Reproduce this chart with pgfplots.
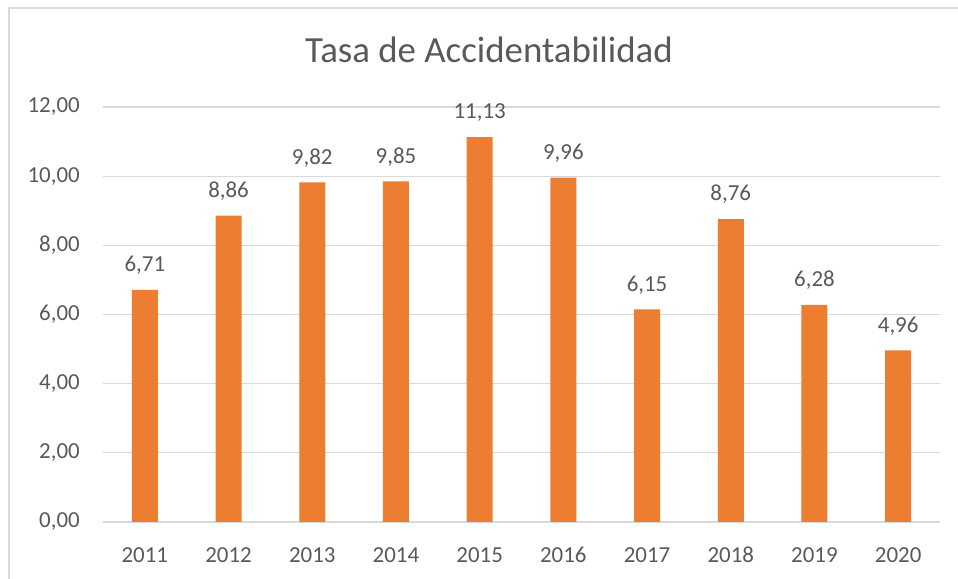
\documentclass[border=0pt]{standalone}
\usepackage{fontspec}
\setmainfont{Carlito}
\usepackage{pgfplots}
\pgfplotsset{compat=1.18}
\definecolor{barorange}{HTML}{ED7D31}
\definecolor{txtgray}{HTML}{595959}
\definecolor{gridgray}{HTML}{D9D9D9}
\begin{document}
\begin{tikzpicture}[x=1bp,y=1bp]
\path[use as bounding box] (-103,-57) rectangle (855,522);
\draw[gridgray, line width=1.5bp] (-94,-60) -- (-94,514) -- (860,514);
\begin{axis}[
  at={(0,0)}, anchor=south west,
  scale only axis, width=837bp, height=415bp,
  xmin=-0.5, xmax=9.5, ymin=0, ymax=12,
  xtick={0,...,9},
  xticklabels={2011,2012,2013,2014,2015,2016,2017,2018,2019,2020},
  ytick={0,2,...,12},
  axis line style={draw=none},
  major tick length=0pt,
  ymajorgrids, grid style={gridgray, line width=1.3bp},
  /pgf/number format/assume math mode=true,
  yticklabel={\pgfmathprintnumber[fixed,fixed zerofill,precision=2,use comma]{\tick}},
  yticklabel style={font=\fontsize{23}{27}\selectfont, text=txtgray, inner sep=0pt, anchor=east, xshift=-23bp},
  xticklabel style={font=\fontsize{23}{27}\selectfont, text=txtgray, inner sep=0pt, anchor=north, yshift=-25bp},
  ybar, bar width=26bp,
  nodes near coords={\pgfmathprintnumber[fixed,fixed zerofill,precision=2,use comma]{\pgfplotspointmeta}},
  every node near coord/.append style={font=\fontsize{23}{27}\selectfont, text=txtgray, inner sep=0pt, anchor=south, text depth=0pt, yshift=18bp},
]
\addplot[fill=barorange, draw=none] coordinates {
(0,6.71) (1,8.86) (2,9.82) (3,9.85) (4,11.13) (5,9.96) (6,6.15) (7,8.76) (8,6.28) (9,4.96)
};
\end{axis}
\node[anchor=base, text=txtgray, font=\fontsize{37}{44}\selectfont, inner sep=0pt] at (386,459) {Tasa de Accidentabilidad};
\end{tikzpicture}
\end{document}
